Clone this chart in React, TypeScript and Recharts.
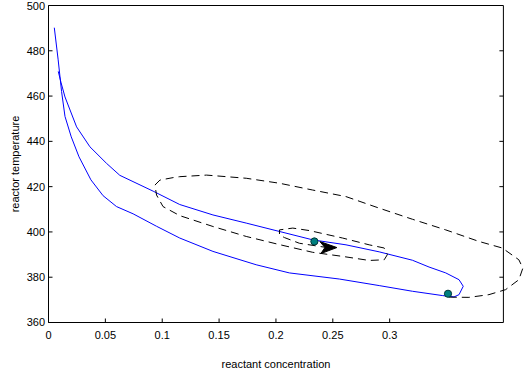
import { LineChart, Line, XAxis, YAxis, Scatter, ReferenceLine } from 'recharts';

// blue trajectory: lower branch left -> right, then upper branch back
const blueX = [
  0.0051, 0.0085, 0.0115, 0.0145, 0.02, 0.0268, 0.0373, 0.048, 0.0598, 0.0744, 0.095, 0.1154, 0.1446, 0.1826,
  0.2118, 0.2557, 0.2908, 0.32, 0.3463, 0.3566, 0.361, 0.3647, 0.361, 0.3493, 0.3346, 0.32, 0.2908, 0.2616,
  0.2323, 0.2031, 0.1739, 0.1446, 0.1154, 0.092, 0.0627, 0.051, 0.0364, 0.0247, 0.0145, 0.011, 0.0086,
];
const blueY = [
  490.2, 476, 462, 451, 442, 433.2, 423, 416, 411.2, 408, 402.5, 397.3, 391.4, 385.5, 381.9, 379.2, 376.3, 373.8,
  371.9, 371.3, 372.3, 376, 378.9, 381.9, 384.5, 387.5, 391.2, 394.3, 396.5, 400.2, 403.9, 407.5, 412.1, 418,
  425, 430.3, 437.6, 446.4, 459.6, 466, 470.9,
];

// dashed trajectory spiralling in to the arrow
const dashX = [
  0.352, 0.3697, 0.3873, 0.4019, 0.4136, 0.4171, 0.4136, 0.399, 0.3785, 0.3493, 0.32, 0.2908, 0.2616, 0.2323,
  0.2031, 0.1739, 0.139, 0.1154, 0.1097, 0.098, 0.0936, 0.095, 0.1007, 0.1154, 0.1446, 0.1739, 0.2031, 0.2323,
  0.2586, 0.282, 0.2952, 0.298, 0.2952, 0.282, 0.2586, 0.2294, 0.2148, 0.2031, 0.2031, 0.2075, 0.2206, 0.2448,
];
const dashY = [
  371.2, 371.1, 372.3, 374.5, 378.9, 384, 387.7, 392.9, 395.8, 400.9, 405.6, 410.5, 415.6, 418.5, 421.5, 423.7,
  425.1, 424.4, 424, 422.9, 420.7, 416.3, 411.2, 407.2, 402.4, 398, 394.4, 391, 389.2, 387.4, 387.7, 390, 392.9,
  394.3, 397.3, 400.6, 401.7, 400.9, 398.7, 397.5, 395, 393.1,
];

const dotX = [0.2338, 0.3513];
const dotY = [395.8, 372.7];
const arrowX = [0.2448];
const arrowY = [393.1];

const xTicks = [0, 0.05, 0.1, 0.15, 0.2, 0.25, 0.3];
const xTicksTop = [0, 0.05, 0.1, 0.15, 0.2, 0.25, 0.3, 0.35];
const yTicks = [360, 380, 400, 420, 440, 460, 480, 500];

const blueData = blueX.map((x, i) => ({ x, y: blueY[i] }));
const dashData = dashX.map((x, i) => ({ x, y: dashY[i] }));
const dotData = dotX.map((x, i) => ({ x, y: dotY[i] }));
const arrowData = arrowX.map((x, i) => ({ x, y: arrowY[i] }));

const FONT = '"Liberation Sans", Arial, sans-serif';
const tickStyle = { fill: '#000', fontSize: 11, fontFamily: FONT };

const Dot = (props: any) => (
  <circle cx={props.cx} cy={props.cy} r={3.6} fill="#008080" stroke="#003838" strokeWidth={1} />
);

const Arrow = (props: any) => {
  const { cx, cy } = props;
  const pts = [
    [cx - 7, cy - 6],
    [cx + 10, cy],
    [cx - 6, cy + 6],
    [cx - 2, cy],
  ]
    .map((p) => p.join(','))
    .join(' ');
  return <polygon points={pts} fill="#000" stroke="#000" />;
};

export default function App() {
  return (
    <div style={{ position: 'absolute', left: 0, top: 0, background: '#fff' }}>
      <LineChart width={525} height={370} margin={{ top: 5.5, right: 0, bottom: 0, left: 0.5 }}>
        <XAxis
          dataKey="x"
          type="number"
          domain={[0, 0.419]}
          allowDataOverflow
          ticks={xTicks}
          tickFormatter={(v) => String(v)}
          height={47.5}
          axisLine={false}
          tickSize={-4}
          tickMargin={13}
          tickLine={{ stroke: '#000' }}
          tick={tickStyle}
          label={{
            content: (p: any) => {
              const vb = p.viewBox;
              return (
                <text
                  x={vb.x + (vb.width * (0.4 / 0.419)) / 2}
                  y={vb.y + 45.5}
                  textAnchor="middle"
                  fontSize={11}
                  fontFamily={FONT}
                  fill="#000"
                >
                  reactant concentration
                </text>
              );
            },
          }}
        />
        <XAxis
          xAxisId="top"
          orientation="top"
          type="number"
          domain={[0, 0.419]}
          allowDataOverflow
          ticks={xTicksTop}
          height={0}
          axisLine={false}
          tick={false}
          tickSize={-4}
          tickLine={{ stroke: '#000' }}
        />
        <YAxis
          type="number"
          domain={[360, 500]}
          allowDataOverflow
          ticks={yTicks}
          width={48}
          axisLine={{ stroke: '#000' }}
          tickSize={-4}
          tickMargin={7.5}
          tickLine={{ stroke: '#000' }}
          tick={tickStyle}
          label={{
            content: (p: any) => {
              const vb = p.viewBox;
              const cx = vb.x + 14;
              const cy = vb.y + vb.height / 2;
              return (
                <text
                  x={cx}
                  y={cy}
                  transform={`rotate(-90 ${cx} ${cy})`}
                  textAnchor="middle"
                  dominantBaseline="central"
                  fontSize={11}
                  fontFamily={FONT}
                  fill="#000"
                >
                  reactor temperature
                </text>
              );
            },
          }}
        />
        <ReferenceLine segment={[{ x: 0, y: 360 }, { x: 0.4, y: 360 }]} stroke="#000" ifOverflow="visible" />
        <ReferenceLine segment={[{ x: 0, y: 500 }, { x: 0.4, y: 500 }]} stroke="#000" ifOverflow="visible" />
        <ReferenceLine segment={[{ x: 0.4, y: 360 }, { x: 0.4, y: 500 }]} stroke="#000" ifOverflow="visible" />
        {yTicks.slice(1, -1).map((t) => (
          <ReferenceLine
            key={t}
            segment={[{ x: 0.4, y: t }, { x: 0.4 - 4 / 1137.2, y: t }]}
            stroke="#000"
            ifOverflow="visible"
          />
        ))}
        <Line
          data={blueData}
          dataKey="y"
          stroke="#0000ff"
          strokeWidth={1}
          dot={false}
          isAnimationActive={false}
          type="linear"
        />
        <Line
          data={dashData}
          dataKey="y"
          stroke="#000"
          strokeWidth={1}
          strokeDasharray="8 5"
          dot={false}
          isAnimationActive={false}
          type="linear"
        />
        <Scatter data={dotData} dataKey="y" shape={Dot} isAnimationActive={false} />
        <Scatter data={arrowData} dataKey="y" shape={Arrow} isAnimationActive={false} />
      </LineChart>
    </div>
  );
}
